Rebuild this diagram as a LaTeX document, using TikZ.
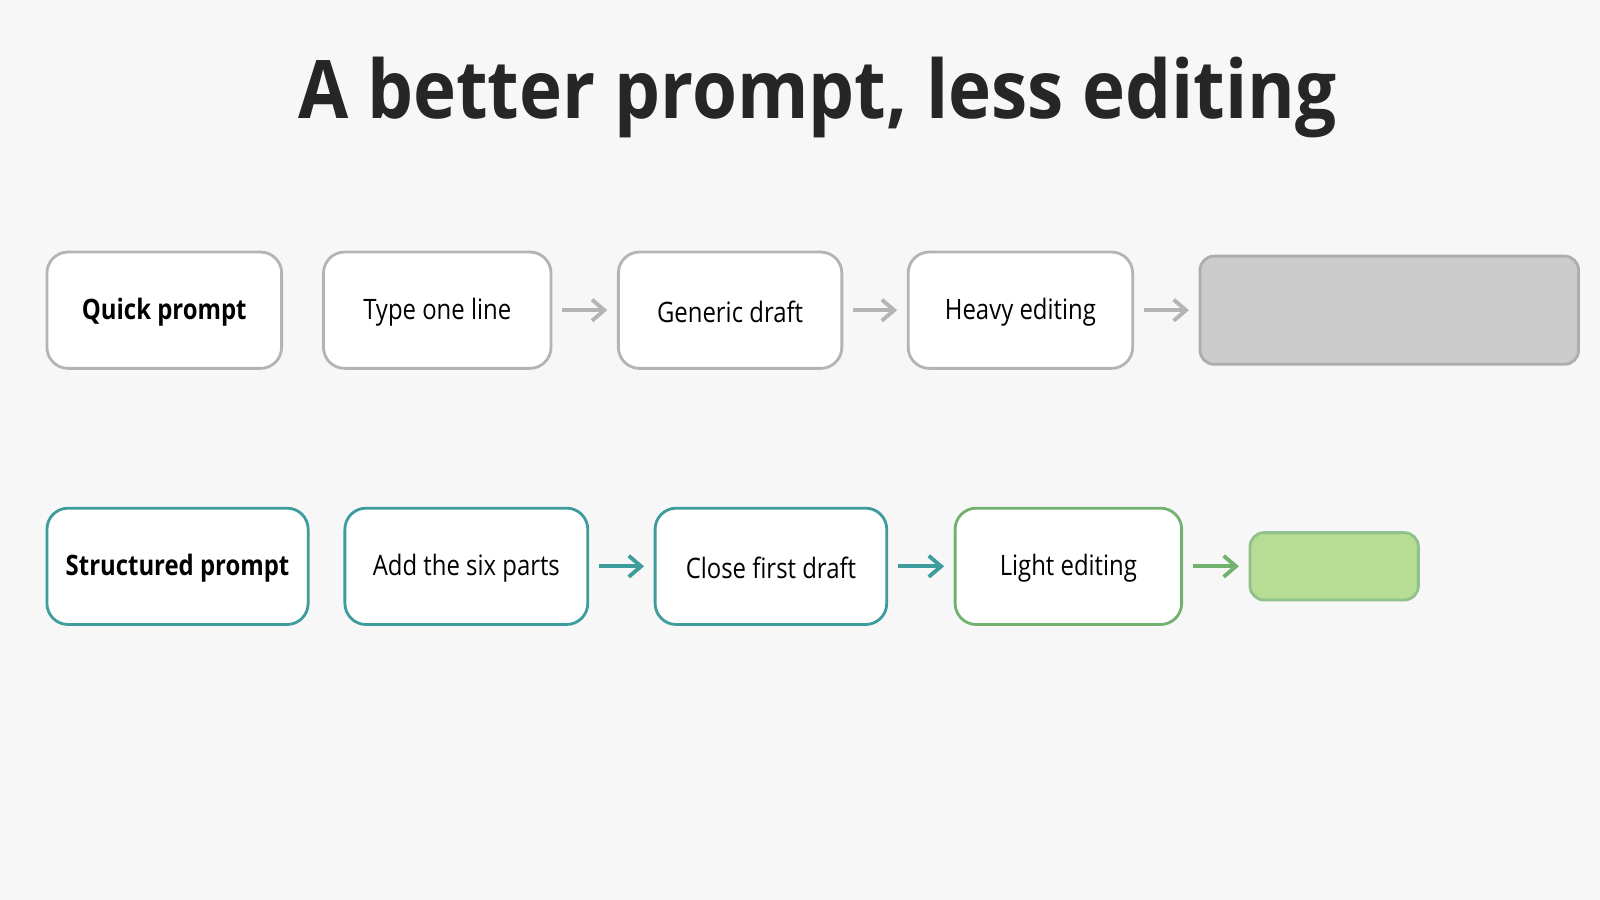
\documentclass[tikz,border=0pt]{standalone}
\usepackage{fontspec}
\setmainfont{Open Sans}
\usetikzlibrary{arrows.meta}
\definecolor{gb}{HTML}{B4B4B4}
\definecolor{teal1}{HTML}{3E9C9C}
\definecolor{grn}{HTML}{72B26E}
\definecolor{gfill}{HTML}{B7DC94}
\begin{document}
\begin{tikzpicture}[x=0.020408cm,y=-0.020408cm,
 box/.style={draw=gb,line width=1.6pt,rounded corners=12pt,fill=white},
 lbl/.style={font=\fontsize{16}{18}\selectfont\addfontfeatures{FakeStretch=0.85}},
 blbl/.style={font=\fontsize{16}{18}\selectfont\bfseries\addfontfeatures{FakeStretch=0.85}},
 arr/.style={-{Straight Barb[length=7pt,width=12pt]},line width=2.2pt,shorten <=5.5pt,shorten >=5.5pt},
]
\fill[white!97!black] (0,0) rectangle (1568,882);
\node[font=\fontsize{46}{56}\selectfont\bfseries\addfontfeatures{FakeStretch=0.9},text=black!85] (title) at (801,96) {A better prompt, less editing};
\newcommand{\bx}[6]{\node[box,#6,minimum width={(#3-#2)*0.020408cm},minimum height={(#5-#4)*0.020408cm}] (#1) at ({(#2+#3)/2},{(#4+#5)/2}) {};}
\bx{q}{46}{276}{247}{361}{}
\bx{t}{317}{540}{247}{361}{}
\bx{g}{606}{825}{247}{361}{}
\bx{h}{890}{1110}{247}{361}{}
\bx{e}{1176}{1547}{251}{357}{fill=black!20,draw=black!32,rounded corners=8pt}
\bx{s}{46}{302}{498}{612}{draw=teal1}
\bx{a}{338}{576}{498}{612}{draw=teal1}
\bx{c}{642}{869}{498}{612}{draw=teal1}
\bx{l}{936}{1158}{498}{612}{draw=grn}
\bx{f}{1225}{1390}{522}{588}{fill=gfill,draw=grn!80,rounded corners=8pt}
\node[blbl] at ([yshift=-1pt]q) {Quick prompt};
\node[lbl] at ([yshift=-1pt]t) {Type one line};
\node[lbl] at ([yshift=-1pt]g) {Generic draft};
\node[lbl] at ([yshift=-1pt]h) {Heavy editing};
\node[blbl] at ([yshift=-1pt]s) {Structured prompt};
\node[lbl] at ([yshift=-1pt]a) {Add the six parts};
\node[lbl] at ([yshift=-1pt]c) {Close first draft};
\node[lbl] at ([yshift=-1pt]l) {Light editing};
\draw[arr,gb] (t) -- (g);
\draw[arr,gb] (g) -- (h);
\draw[arr,gb] (h) -- (e);
\draw[arr,teal1] (a) -- (c);
\draw[arr,teal1] (c) -- (l);
\draw[arr,grn] (l) -- (f);
\end{tikzpicture}
\end{document}
